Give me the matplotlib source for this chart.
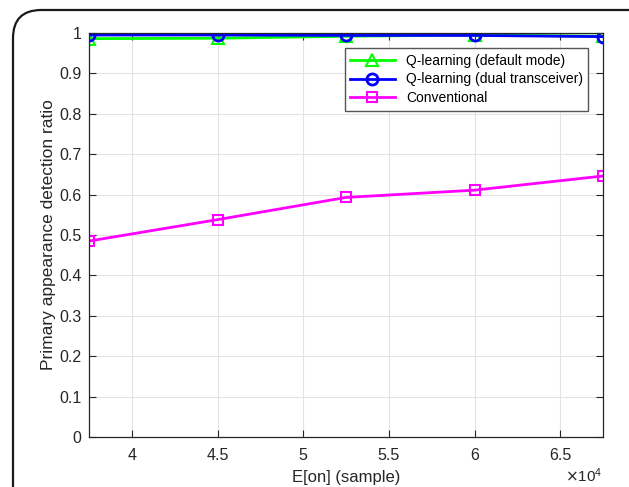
import matplotlib
matplotlib.use("Agg")
from matplotlib import pyplot as plt
from matplotlib.patches import FancyBboxPatch
from matplotlib.ticker import FuncFormatter

plt.rcParams['font.family'] = ['Liberation Sans', 'DejaVu Sans']

# Expected number of "on" samples
e_on = [37500, 45000, 52500, 60000, 67500]

# Detection ratio per scheme
q_default = [0.986, 0.987, 0.992, 0.995, 0.992]
q_dual = [0.995, 0.995, 0.994, 0.994, 0.991]
conventional = [0.485, 0.538, 0.593, 0.611, 0.646]

labels = ["Q-learning (default mode)", "Q-learning (dual transceiver)", "Conventional"]

fig = plt.figure(figsize=(6.29, 4.87), dpi=100)
ax = fig.add_axes([89 / 629, 1 - 437 / 487, 514 / 629, 404 / 487])

# rounded outer frame, runs off the right and bottom edges
frame = FancyBboxPatch((13 / 629, -0.3), 1.3, 1.3 - 10 / 487,
                       boxstyle="round,pad=0,rounding_size=0.045",
                       transform=fig.transFigure, fill=False,
                       edgecolor="#1a1a1a", linewidth=1.6, clip_on=False,
                       mutation_aspect=629 / 487)
fig.patches.append(frame)

ax.plot(e_on, q_default, color=(0, 1, 0), marker="^", markersize=8,
        markerfacecolor="none", markeredgewidth=1.5, linewidth=2, label=labels[0])
ax.plot(e_on, q_dual, color=(0, 0, 1), marker="o", markersize=8,
        markerfacecolor="none", markeredgewidth=2, linewidth=2, label=labels[1])
ax.plot(e_on, conventional, color=(1, 0, 1), marker="s", markersize=7,
        markerfacecolor="none", markeredgewidth=1.5, linewidth=2, label=labels[2])

ax.set_xlim(37500, 67500)
ax.set_ylim(0, 1)
ax.set_xticks([40000, 45000, 50000, 55000, 60000, 65000])
ax.set_yticks([i / 10 for i in range(11)])
ax.xaxis.set_major_formatter(FuncFormatter(lambda v, p: f"{v / 1e4:g}"))
ax.yaxis.set_major_formatter(FuncFormatter(lambda v, p: f"{v:g}"))

ax.grid(True, color="#e3e3e3", linewidth=0.8)
ax.set_axisbelow(True)
ax.tick_params(direction="in", top=True, right=True, length=5, width=0.8,
               labelsize=11.5, colors="#262626")
ax.tick_params(axis="y", pad=5.5)
ax.tick_params(axis="x", pad=8)
for s in ax.spines.values():
    s.set_color("#262626")
    s.set_linewidth(0.9)

ax.set_xlabel("E[on] (sample)", fontsize=12, color="#262626", labelpad=5)
ax.set_ylabel("Primary appearance detection ratio", fontsize=12.5, color="#262626", labelpad=2)
fig.text(602 / 629, 1 - 476 / 487, r"$\times\mathregular{10^4}$", fontsize=11,
         color="#262626", ha="right", va="center")

leg = ax.legend(loc="upper right", bbox_to_anchor=(0.985, 0.98), fontsize=10,
                fancybox=False, framealpha=1, edgecolor="#555555",
                handlelength=3.2, borderpad=0.4, labelspacing=0.35)
leg.get_frame().set_linewidth(1.0)

fig.savefig("out.png", dpi=100)
